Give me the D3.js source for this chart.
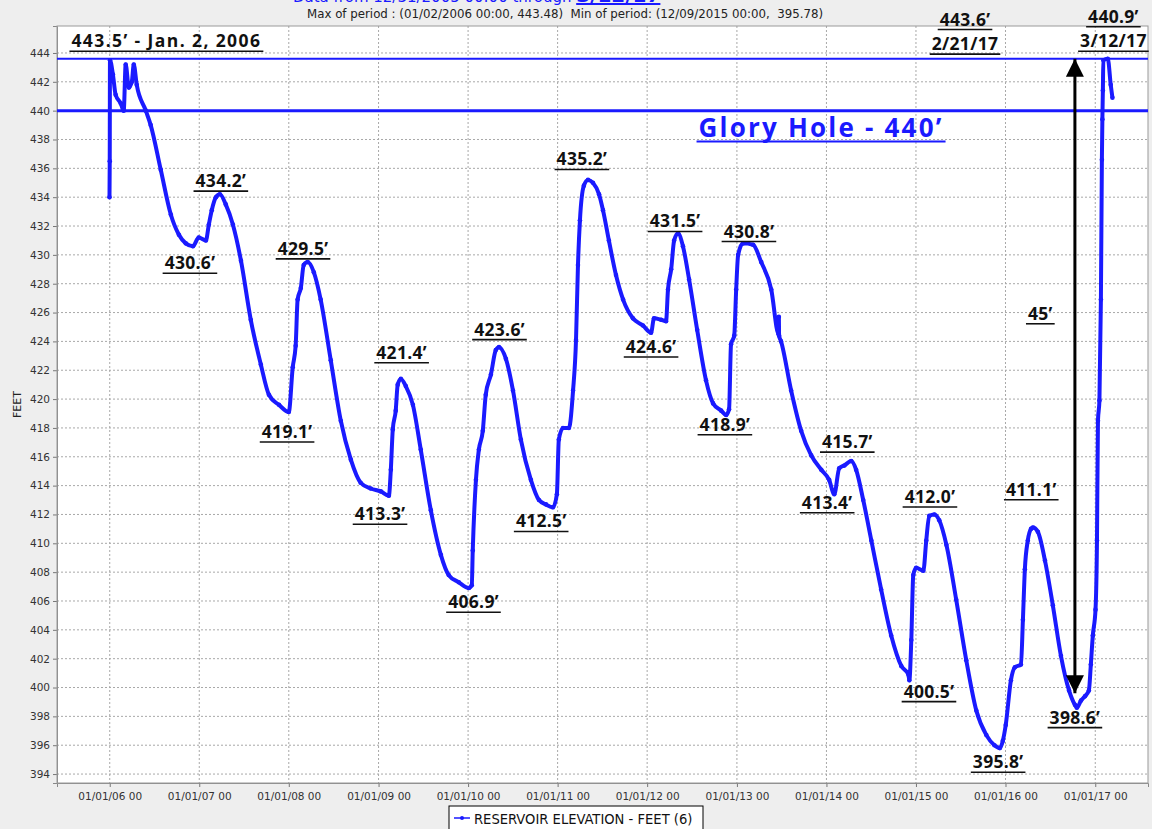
<!DOCTYPE html>
<html>
<head>
<meta charset="utf-8">
<title>Reservoir elevation 2006-2017</title>
<script src="https://cdn.jsdelivr.net/npm/d3@7/dist/d3.min.js"></script>
<style>
body { margin: 0; background: #eeeeee; }
svg { display: block; }
.tick text { font: 10.5px "DejaVu Sans", sans-serif; fill: #333; }
.note { font: 700 17.5px "Open Sans", sans-serif; fill: #111; }
</style>
</head>
<body>
<div id="chart"></div>
<script>
// reservoir elevation, feet
const dates = [
  "2005-12-31","2006-01-01","2006-01-02","2006-01-14","2006-01-25","2006-02-15","2006-02-27","2006-03-07",
  "2006-03-20","2006-04-01","2006-04-09","2006-04-21","2006-05-28","2006-06-17","2006-07-28","2006-09-07",
  "2006-10-10","2006-11-07","2006-12-06","2006-12-30","2007-01-28","2007-02-09","2007-02-21","2007-03-10",
  "2007-03-26","2007-04-19","2007-05-18","2007-06-20","2007-07-30","2007-09-09","2007-10-12","2007-11-22",
  "2008-01-01","2008-01-17","2008-01-29","2008-02-06","2008-02-19","2008-03-02","2008-03-18","2008-04-12",
  "2008-05-10","2008-06-20","2008-07-31","2008-09-10","2008-10-20","2008-11-30","2009-01-10","2009-02-12",
  "2009-02-20","2009-02-28","2009-03-12","2009-03-20","2009-04-02","2009-04-22","2009-05-21","2009-06-22",
  "2009-08-02","2009-09-12","2009-10-14","2009-11-24","2010-01-04","2010-01-16","2010-01-20","2010-02-02",
  "2010-02-14","2010-03-02","2010-03-14","2010-04-04","2010-04-24","2010-05-07","2010-06-04","2010-07-03",
  "2010-08-04","2010-09-14","2010-10-17","2010-11-14","2010-12-13","2010-12-29","2011-01-06","2011-01-23",
  "2011-02-16","2011-03-05","2011-03-17","2011-03-25","2011-04-02","2011-04-18","2011-05-05","2011-05-25",
  "2011-06-19","2011-07-05","2011-07-29","2011-08-27","2011-09-25","2011-11-04","2011-12-15","2012-01-17",
  "2012-01-29","2012-02-27","2012-03-18","2012-03-26","2012-04-08","2012-04-20","2012-05-06","2012-05-26",
  "2012-06-20","2012-07-23","2012-08-28","2012-09-26","2012-10-29","2012-11-18","2012-11-30","2012-12-08",
  "2012-12-21","2012-12-29","2013-01-06","2013-01-26","2013-03-08","2013-04-10","2013-05-21","2013-06-20",
  "2013-06-21","2013-06-22","2013-06-30",
  "2013-08-10","2013-09-20","2013-10-31","2013-12-11","2014-01-12","2014-02-02","2014-02-22","2014-03-15",
  "2014-04-12","2014-05-02","2014-05-31","2014-07-03","2014-08-12","2014-09-22","2014-11-02","2014-12-01",
  "2014-12-05","2014-12-13","2014-12-21","2015-01-02","2015-01-31","2015-02-12","2015-02-24","2015-03-17",
  "2015-04-06","2015-05-05","2015-06-14","2015-07-25","2015-09-04","2015-10-15","2015-11-17","2015-12-09",
  "2015-12-21","2016-01-02","2016-01-23","2016-02-08","2016-03-04","2016-03-12","2016-03-20","2016-04-01",
  "2016-04-14","2016-04-22","2016-05-12","2016-06-10","2016-07-12","2016-08-14","2016-09-16","2016-10-10",
  "2016-10-18","2016-11-04","2016-11-20","2016-12-06","2016-12-14","2016-12-22","2017-01-02","2017-01-08",
  "2017-01-12","2017-01-18","2017-01-24","2017-01-28","2017-01-30","2017-02-01","2017-02-03","2017-02-21",
  "2017-03-05","2017-03-12"
];
const feet = [
  434.0,436.5,443.5,442.5,441.1,440.5,440.0,443.2,
  441.6,442.0,443.2,441.8,440.0,439.0,435.9,432.8,
  431.4,430.8,430.6,431.2,431.0,432.1,433.1,434.0,
  434.2,433.5,432.1,429.6,425.5,422.4,420.3,419.6,
  419.1,422.2,423.7,426.9,427.7,429.3,429.5,428.8,
  426.9,422.7,418.5,415.8,414.2,413.8,413.6,413.3,
  415.1,417.9,419.2,421.0,421.4,420.9,419.6,416.5,
  412.3,409.2,407.8,407.3,406.9,407.1,409.5,414.4,
  416.5,417.8,420.3,421.7,423.4,423.6,422.8,420.6,
  417.2,414.4,413.0,412.7,412.5,413.4,417.2,418.0,
  418.0,420.6,424.1,429.3,432.4,434.8,435.2,435.0,
  434.2,433.1,431.0,428.6,426.9,425.6,425.1,424.6,
  425.6,425.5,425.4,427.6,429.0,431.0,431.5,430.6,
  428.3,424.8,421.3,419.7,419.2,418.9,419.3,423.8,
  424.4,427.6,430.0,430.8,430.7,429.5,427.6,424.5,
  425.7,424.4,424.0,
  420.6,417.8,416.1,415.1,414.4,413.4,415.2,415.4,
  415.7,415.1,413.0,410.2,406.8,403.6,401.5,400.9,
  400.5,403.3,407.8,408.3,408.1,410.2,411.9,412.0,
  411.6,409.9,406.1,401.9,398.4,396.7,396.0,395.8,
  396.3,397.4,400.5,401.4,401.6,404.7,408.2,410.2,
  411.0,411.1,410.8,408.8,405.7,402.2,399.8,398.8,
  398.6,399.1,399.4,399.8,401.6,403.6,405.4,410.2,
  418.5,419.9,426.9,436.6,439.4,441.4,443.5,443.6,
  441.8,440.9
];

const yTicks = d3.range(394, 445, 2);
const yearTicks = d3.range(2006, 2018);
const gloryHole = 440;
const maxLine = 443.6;

// labels: text, anchor date, anchor value (label centre / baseline)
const notes = [
  ["443.5\u2019 - Jan. 2, 2006", "2006-08-20", 444.4],
  ["434.2\u2019", "2007-03-30", 434.7],
  ["430.6\u2019", "2006-11-24", 429.0],
  ["429.5\u2019", "2008-02-28", 430.0],
  ["419.1\u2019", "2007-12-25", 417.3],
  ["421.4\u2019", "2009-04-05", 422.8],
  ["413.3\u2019", "2009-01-07", 411.6],
  ["423.6\u2019", "2010-05-09", 424.4],
  ["406.9\u2019", "2010-01-23", 405.5],
  ["412.5\u2019", "2010-10-26", 411.1],
  ["435.2\u2019", "2011-04-10", 436.2],
  ["431.5\u2019", "2012-04-24", 431.9],
  ["424.6\u2019", "2012-01-17", 423.2],
  ["430.8\u2019", "2013-02-19", 431.2],
  ["418.9\u2019", "2012-11-13", 417.8],
  ["415.7\u2019", "2014-03-27", 416.6],
  ["413.4\u2019", "2014-01-04", 412.4],
  ["412.0\u2019", "2015-02-27", 412.8],
  ["400.5\u2019", "2015-02-23", 399.3],
  ["411.1\u2019", "2016-04-15", 413.3],
  ["395.8\u2019", "2015-12-02", 394.4],
  ["398.6\u2019", "2016-10-10", 397.5],
  ["443.6\u2019", "2015-07-20", 445.9],
  ["2/21/17", "2015-07-20", 444.2],
  ["440.9\u2019", "2017-03-16", 446.1],
  ["3/12/17", "2017-03-16", 444.4],
  ["45\u2019", "2016-05-22", 425.5]
];
const arrowDate = "2016-10-10", arrowTop = 443.6, arrowBottom = 399.6;

const width = 1152, height = 829;
const margin = {top: 26, right: 4, bottom: 46, left: 57};
const parse = d3.utcParse("%Y-%m-%d");

const svg = d3.select("#chart").append("svg")
    .attr("width", width).attr("height", height);

const x = d3.scaleUtc()
    .domain([parse("2005-05-31"), parse("2017-08-04")])
    .range([margin.left, width - margin.right]);
const y = d3.scaleLinear()
    .domain([393.38, 445.87])
    .range([height - margin.bottom, margin.top]);

const blue = "#1a1aff";

// header (mostly cut off at the top of the image)
const head = svg.append("text")
    .attr("x", 293).attr("y", 2)
    .style("font", "15px 'DejaVu Sans', sans-serif").attr("fill", blue);
head.append("tspan").text("Data from 12/31/2005 00:00 through ");
head.append("tspan").style("font-weight", "bold").style("font-size", "20px")
    .style("text-decoration", "underline").text("3/12/17");
svg.append("text")
    .attr("x", 307).attr("y", 18)
    .style("font", "11.8px 'DejaVu Sans', sans-serif")
    .attr("fill", "#222")
    .text("Max of period : (01/02/2006 00:00, 443.48)\u00a0 Min of period: (12/09/2015 00:00,\u00a0 395.78)");

// plot background
svg.append("rect")
    .attr("x", margin.left).attr("y", margin.top)
    .attr("width", width - margin.left - margin.right)
    .attr("height", height - margin.top - margin.bottom)
    .attr("fill", "#fff");

svg.append("clipPath").attr("id", "clip")
  .append("rect")
    .attr("x", margin.left).attr("y", margin.top)
    .attr("width", width - margin.left - margin.right)
    .attr("height", height - margin.top - margin.bottom);

// grid
const grid = svg.append("g").attr("stroke", "#a8a8a8").attr("stroke-dasharray", "2,2");
grid.selectAll(".h").data(yTicks).join("line")
    .attr("x1", margin.left).attr("x2", width - margin.right)
    .attr("y1", d => y(d)).attr("y2", d => y(d));
grid.selectAll(".v").data(yearTicks).join("line")
    .attr("x1", d => x(Date.UTC(d, 0, 1))).attr("x2", d => x(Date.UTC(d, 0, 1)))
    .attr("y1", margin.top).attr("y2", height - margin.bottom);

// axes
const xAxis = svg.append("g")
    .attr("transform", `translate(0,${height - margin.bottom})`)
    .call(d3.axisBottom(x)
        .tickValues(yearTicks.map(d => new Date(Date.UTC(d, 0, 1))))
        .tickFormat(d3.utcFormat("%m/%d/%y 00"))
        .tickSize(4).tickPadding(6));
const yAxis = svg.append("g")
    .attr("transform", `translate(${margin.left},0)`)
    .call(d3.axisLeft(y).tickValues(yTicks).tickFormat(d3.format("d")).tickSize(4).tickPadding(3));
[xAxis, yAxis].forEach(a => {
  a.select(".domain").attr("stroke", "#888");
  a.selectAll(".tick line").attr("stroke", "#777");
});
svg.append("rect")
    .attr("x", margin.left).attr("y", margin.top)
    .attr("width", width - margin.left - margin.right)
    .attr("height", height - margin.top - margin.bottom)
    .attr("fill", "none").attr("stroke", "#999");

svg.append("text")
    .attr("transform", `translate(21,${(margin.top + height - margin.bottom) / 2}) rotate(-90)`)
    .attr("text-anchor", "middle")
    .style("font", "11px 'DejaVu Sans', sans-serif").attr("fill", "#222")
    .text("FEET");

const plot = svg.append("g").attr("clip-path", "url(#clip)");

// reference lines
plot.append("line")
    .attr("x1", margin.left).attr("x2", width - margin.right)
    .attr("y1", y(maxLine)).attr("y2", y(maxLine))
    .attr("stroke", blue).attr("stroke-width", 2);
plot.append("line")
    .attr("x1", margin.left).attr("x2", width - margin.right)
    .attr("y1", y(gloryHole)).attr("y2", y(gloryHole))
    .attr("stroke", blue).attr("stroke-width", 3);

// series
const series = dates.map((d, i) => ({date: parse(d), value: feet[i]}));
const line = d3.line().curve(d3.curveMonotoneX).x(d => x(d.date)).y(d => y(d.value));
plot.append("path")
    .datum(series)
    .attr("fill", "none").attr("stroke", blue)
    .attr("stroke-width", 4).attr("stroke-linejoin", "round")
    .attr("d", line);
plot.selectAll(".pt").data(series).join("circle")
    .attr("cx", d => x(d.date)).attr("cy", d => y(d.value))
    .attr("r", 2.3).attr("fill", blue);

// arrow
const defs = svg.append("defs");
defs.append("marker").attr("id", "head")
    .attr("viewBox", "0 0 10 10").attr("refX", 10).attr("refY", 5)
    .attr("markerWidth", 6).attr("markerHeight", 6)
    .attr("markerUnits", "strokeWidth").attr("orient", "auto-start-reverse")
  .append("path").attr("d", "M0,0L10,5L0,10Z").attr("fill", "#000");
svg.append("line")
    .attr("x1", x(parse(arrowDate))).attr("x2", x(parse(arrowDate)))
    .attr("y1", y(arrowTop)).attr("y2", y(arrowBottom))
    .attr("stroke", "#000").attr("stroke-width", 3)
    .attr("marker-start", "url(#head)").attr("marker-end", "url(#head)");

// underlined labels
function underlined(sel, gap, w) {
  sel.each(function() {
    const b = this.getBBox();
    d3.select(this.parentNode).append("line")
        .attr("x1", b.x - 2).attr("x2", b.x + b.width + 2)
        .attr("y1", +this.getAttribute("y") + gap).attr("y2", +this.getAttribute("y") + gap)
        .attr("stroke", this.getAttribute("fill") || "#111").attr("stroke-width", w);
  });
}
const noteG = svg.append("g");
noteG.selectAll("text").data(notes).join("text")
    .attr("class", "note").attr("fill", "#111")
    .attr("text-anchor", "middle")
    .style("letter-spacing", d => d[0].length > 8 ? "1.4px" : "0.3px")
    .attr("x", d => x(parse(d[1]))).attr("y", d => y(d[2]))
    .text(d => d[0])
    .call(underlined, 4, 1.6);

svg.append("g").append("text")
    .attr("x", x(parse("2013-12-10"))).attr("y", y(438.2))
    .attr("text-anchor", "middle").attr("fill", blue)
    .style("font", "700 26px 'Open Sans', sans-serif").style("letter-spacing", "2.2px")
    .text("Glory Hole - 440\u2019")
    .call(underlined, 5, 2);

// legend
const lg = svg.append("g").attr("transform", "translate(449,806)");
lg.append("rect").attr("width", 254).attr("height", 30)
    .attr("fill", "#fff").attr("stroke", "#000");
lg.append("line").attr("x1", 5).attr("x2", 21).attr("y1", 12).attr("y2", 12)
    .attr("stroke", blue).attr("stroke-width", 1.5);
lg.append("circle").attr("cx", 13).attr("cy", 12).attr("r", 2).attr("fill", blue);
lg.append("text").attr("x", 25).attr("y", 17.5)
    .style("font", "14.6px 'DejaVu Sans Condensed', 'DejaVu Sans', sans-serif").attr("fill", "#111")
    .text("RESERVOIR ELEVATION - FEET (6)");
</script>
</body>
</html>
